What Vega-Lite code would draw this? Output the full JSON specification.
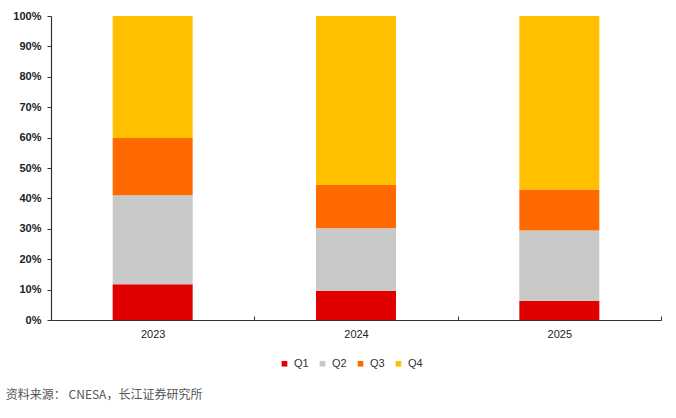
{
  "$schema": "https://vega.github.io/schema/vega-lite/v6.json",
  "width": 610,
  "height": 304,
  "padding": {"left": 5, "top": 10, "right": 4, "bottom": 5},
  "background": "white",
  "title": {
    "text": "资料来源：  CNESA，长江证券研究所",
    "orient": "bottom",
    "anchor": "start",
    "frame": "bounds",
    "font": "Noto Sans CJK SC",
    "fontSize": 12,
    "fontWeight": "normal",
    "color": "#555555",
    "offset": 21,
    "dx": -7
  },
  "data": {
    "values": [
      {"year": "2023", "quarter": "Q1", "share": 0.118},
      {"year": "2023", "quarter": "Q2", "share": 0.292},
      {"year": "2023", "quarter": "Q3", "share": 0.189},
      {"year": "2023", "quarter": "Q4", "share": 0.401},
      {"year": "2024", "quarter": "Q1", "share": 0.096},
      {"year": "2024", "quarter": "Q2", "share": 0.206},
      {"year": "2024", "quarter": "Q3", "share": 0.142},
      {"year": "2024", "quarter": "Q4", "share": 0.556},
      {"year": "2025", "quarter": "Q1", "share": 0.063},
      {"year": "2025", "quarter": "Q2", "share": 0.231},
      {"year": "2025", "quarter": "Q3", "share": 0.135},
      {"year": "2025", "quarter": "Q4", "share": 0.571}
    ]
  },
  "mark": {"type": "bar", "width": 80},
  "encoding": {
    "x": {
      "field": "year",
      "type": "nominal",
      "title": null,
      "scale": {"paddingInner": 0, "paddingOuter": 0},
      "axis": {
        "labelAngle": 0,
        "labelFont": "Liberation Sans",
        "labelFontSize": 11,
        "labelColor": "#222222",
        "labelPadding": 12,
        "tickBand": "extent",
        "tickSize": -4,
        "tickColor": "#333333",
        "domainColor": "#333333",
        "domainWidth": 1.2
      }
    },
    "y": {
      "field": "share",
      "type": "quantitative",
      "stack": "zero",
      "title": null,
      "scale": {"domain": [0, 1], "nice": false},
      "axis": {
        "format": ".0%",
        "values": [0, 0.1, 0.2, 0.3, 0.4, 0.5, 0.6, 0.7, 0.8, 0.9, 1],
        "grid": false,
        "labelFont": "Liberation Sans",
        "labelFontSize": 11,
        "labelFontWeight": "bold",
        "labelColor": "#222222",
        "tickSize": 4,
        "tickColor": "#333333",
        "domainColor": "#333333",
        "domainWidth": 1.2,
        "labelPadding": 6
      }
    },
    "color": {
      "field": "quarter",
      "type": "nominal",
      "title": null,
      "scale": {
        "domain": ["Q1", "Q2", "Q3", "Q4"],
        "range": ["#E00000", "#C9C9C9", "#FF6A00", "#FFC000"]
      },
      "legend": {
        "orient": "none",
        "legendX": 228,
        "legendY": 342,
        "direction": "horizontal",
        "symbolType": "square",
        "symbolSize": 32,
        "labelFont": "Liberation Sans",
        "labelFontSize": 11,
        "labelColor": "#333333",
        "columnPadding": 8
      }
    },
    "order": {"field": "quarter", "sort": "ascending"}
  },
  "config": {
    "view": {"stroke": null}
  }
}
